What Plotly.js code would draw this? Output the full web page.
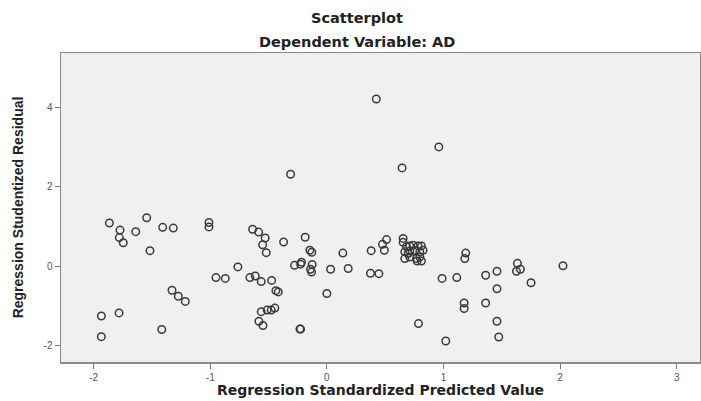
<!DOCTYPE html>
<html>
<head>
<meta charset="utf-8">
<script src="https://cdn.plot.ly/plotly-3.0.1.min.js"></script>
<style>html,body{margin:0;padding:0;background:#fff;}#chart{width:701px;height:401px;}</style>
</head>
<body>
<div id="chart"></div>
<script>
// Regression Standardized Predicted Value
const predicted = [
  -1.865, -1.774, -1.780, -1.746, -1.639, -1.545, -1.517, -1.408, -1.317, -1.011,
  -1.011, -0.637, -0.585, -0.529, -0.551, -0.520, -0.371, -0.186, -0.146, -0.129,
  0.137, 0.380, 0.477, 0.493, 0.512, -0.763, -0.951, -0.871, -0.660, -0.614,
  -0.563, -0.474, -0.277, -0.217, -0.225, -0.126, -0.140, -0.131, 0.032, 0.183,
  0.374, 0.446, -1.328, -1.274, -1.214, -0.437, -0.417, 0.000, -1.934, -1.782,
  -0.563, -0.512, -0.477, -0.446, -0.583, -0.548, -1.416, -0.231, -0.225, -1.934,
  0.424, -0.311, 0.960, 0.645, 0.654, 0.654, 0.683, 0.711, 0.740, 0.782,
  0.811, 0.668, 0.711, 0.754, 0.797, 0.825, 0.668, 0.711, 0.769, 0.797,
  0.811, 0.697, 0.774, 1.191, 1.183, 0.988, 1.114, 1.362, 1.459, 1.634,
  1.660, 1.626, 1.751, 2.025, 1.459, 1.177, 1.177, 1.362, 0.786, 1.459,
  1.020, 1.474
];
// Regression Studentized Residual
const residual = [
  1.09, 0.91, 0.72, 0.59, 0.87, 1.22, 0.39, 0.98, 0.96, 1.10,
  0.99, 0.93, 0.86, 0.71, 0.54, 0.34, 0.61, 0.73, 0.40, 0.35,
  0.33, 0.39, 0.55, 0.40, 0.67, -0.02, -0.29, -0.31, -0.29, -0.25,
  -0.39, -0.36, 0.02, 0.10, 0.05, 0.04, -0.08, -0.15, -0.08, -0.06,
  -0.18, -0.19, -0.61, -0.76, -0.89, -0.62, -0.65, -0.69, -1.26, -1.18,
  -1.15, -1.11, -1.11, -1.06, -1.39, -1.50, -1.60, -1.59, -1.59, -1.78,
  4.22, 2.32, 3.01, 2.48, 0.70, 0.60, 0.49, 0.51, 0.53, 0.51,
  0.51, 0.36, 0.38, 0.40, 0.36, 0.40, 0.19, 0.23, 0.19, 0.23,
  0.13, 0.32, 0.13, 0.33, 0.19, -0.31, -0.29, -0.23, -0.13, 0.07,
  -0.08, -0.13, -0.42, 0.01, -0.57, -0.93, -1.07, -0.93, -1.45, -1.39,
  -1.89, -1.79
];
const xTicks = [-2, -1, 0, 1, 2, 3];
const yTicks = [-2, 0, 2, 4];
const chartTitle = "Scatterplot";
const chartSubtitle = "Dependent Variable: AD";
const xTitle = "Regression Standardized Predicted Value";
const yTitle = "Regression Studentized Residual";

const FONT = "Liberation Sans, Arial, sans-serif";
const WIDE = "DejaVu Sans, Liberation Sans, sans-serif";

const trace = {
  type: "scatter",
  mode: "markers",
  x: predicted,
  y: residual,
  marker: {
    symbol: "circle-open",
    size: 7.5,
    color: "#3a3a3a",
    line: { width: 1.5, color: "#3a3a3a" }
  },
  hoverinfo: "x+y"
};

const layout = {
  width: 701,
  height: 401,
  margin: { l: 61, r: 1, t: 53, b: 39 },
  paper_bgcolor: "#ffffff",
  plot_bgcolor: "#f0f0f0",
  showlegend: false,
  font: { family: FONT, size: 10, color: "#555" },
  xaxis: {
    range: [-2.28, 3.2],
    tickvals: xTicks,
    ticktext: xTicks.map(String),
    ticks: "outside",
    ticklen: 5,
    tickwidth: 1,
    tickcolor: "#777",
    showgrid: false,
    zeroline: false,
    showline: true,
    linecolor: "#8a8a8a",
    linewidth: 1.5,
    mirror: true,
    tickfont: { family: FONT, size: 10, color: "#555" },
    title: { text: xTitle, font: { family: WIDE, size: 14, color: "#222", weight: "bold" }, standoff: 3 }
  },
  yaxis: {
    range: [-2.42, 5.38],
    tickvals: yTicks,
    ticktext: yTicks.map(String),
    ticks: "outside",
    ticklen: 5,
    tickwidth: 1,
    tickcolor: "#777",
    showgrid: false,
    zeroline: false,
    showline: true,
    linecolor: "#8a8a8a",
    linewidth: 1.5,
    mirror: true,
    tickfont: { family: FONT, size: 10, color: "#555" },
    title: { text: yTitle, font: { family: FONT, size: 14, color: "#222", weight: "bold" }, standoff: 16 }
  },
  annotations: [
    { text: "<b>" + chartTitle + "</b>", xref: "paper", yref: "paper", x: 0.463, y: 1, yshift: 53 - 18, xanchor: "center", yanchor: "middle", showarrow: false, font: { family: WIDE, size: 14.5, color: "#222" } },
    { text: "<b>" + chartSubtitle + "</b>", xref: "paper", yref: "paper", x: 0.463, y: 1, yshift: 53 - 42, xanchor: "center", yanchor: "middle", showarrow: false, font: { family: WIDE, size: 14.5, color: "#222" } }
  ]
};

Plotly.newPlot("chart", [trace], layout, { displayModeBar: false, staticPlot: true });
</script>
</body>
</html>
